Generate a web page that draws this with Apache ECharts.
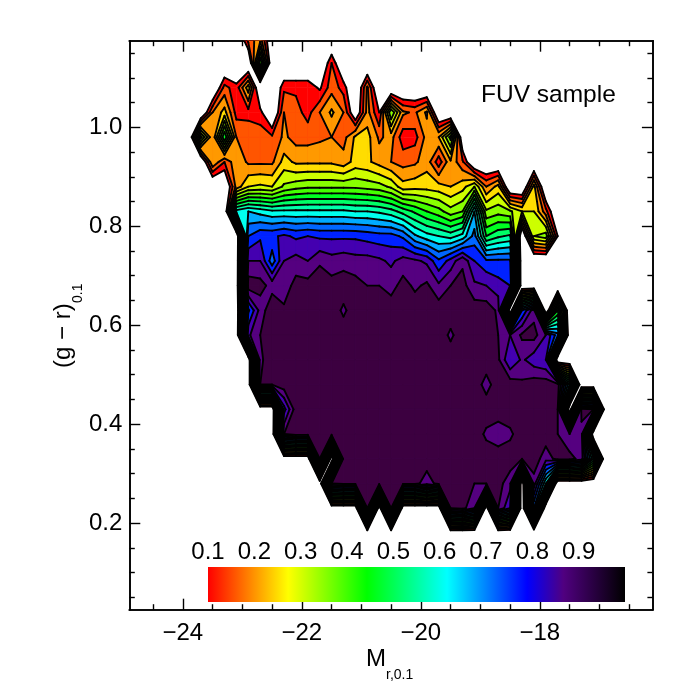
<!DOCTYPE html>
<html>
<head>
<meta charset="utf-8">
<style>html,body{margin:0;padding:0;background:#fff}#chart{width:692px;height:692px}</style>
<script src="https://cdn.jsdelivr.net/npm/echarts@6/dist/echarts.min.js"></script>
</head>
<body>
<div id="chart"></div>
<script>
// grid nodes of the contour plot
var magBins = [-23.9,-23.7,-23.5,-23.3,-23.1,-22.9,-22.7,-22.5,-22.3,-22.1,-21.9,-21.7,-21.5,-21.3,-21.1,-20.9,-20.7,-20.5,-20.3,-20.1,-19.9,-19.7,-19.5,-19.3,-19.1,-18.9,-18.7,-18.5,-18.3,-18.1,-17.9,-17.7,-17.5,-17.3,-17.1,-16.9];
var colorBins = [1.18,1.13,1.08,1.03,0.98,0.93,0.88,0.83,0.78,0.73,0.68,0.63,0.58,0.53,0.48,0.43,0.38,0.33,0.28,0.23,0.18];
// fraction in percent, one row per colorBins entry
var fraction = [
[0,0,0,0,0,18, 22,0,0,0,0,0, 0,0,0,0,0,0, 0,0,0,0,0,0, 0,0,0,0,0,0, 0,0,0,0,0,0],
[0,0,0,0,0,0, 45,0,0,0,0,0, 15,0,0,0,0,0, 0,0,0,0,0,0, 0,0,0,0,0,0, 0,0,0,0,0,0],
[0,0,0,17,12,28, 0,0,14,14,14,9, 18,13,0,21,0,0, 0,0,0,0,0,0, 0,0,0,0,0,0, 0,0,0,0,0,0],
[0,0,20,27,13,13, 12,0,20,17,13,20, 26,20,3,22,10,40, 21,19,26,0,0,0, 0,0,0,0,0,0, 0,0,0,0,0,0],
[0,42,20,50,20,19, 18,16,21,18,18,19, 20,18,26,27,19,22, 12,13,22,25,42,3, 0,0,0,0,0,0, 0,0,0,0,0,0],
[0,0,25,15,24,19, 19,19,27,24,24,24, 24,22,27,26,23,20, 18,19,23,12,24,16, 0,0,0,0,0,0, 0,0,0,0,0,0],
[0,0,0,0,22,30, 31,30,36,38,39,39, 39,39,39,38,37,34, 27,28,28,27,25,28, 35,20,27,0,0,27, 0,0,0,0,0,0],
[0,0,0,0,62,65, 63,61,61,61,61,61, 61,61,60,60,59,57, 53,49,45,42,37,40, 65,36,38,36,30,30, 17,0,0,0,0,0],
[0,0,0,0,0,75, 79,79,81,79,80,79, 79,79,79,78,77,77, 74,66,62,60,58,62, 72,50,54,56,0,35, 38,10,0,0,0,0],
[0,0,0,0,0,85, 85,72,85,87,85,89, 87,88,87,87,86,84, 87,86,84,76,82,89, 80,76,76,76,0,0, 0,0,0,0,0,0],
[0,0,0,0,0,93, 92,88,87,92,92,94, 92,93,92,90,90,88, 92,89,91,86,90,92, 86,85,82,80,0,0, 0,0,0,0,0,0],
[0,0,0,0,0,74, 87,94,91,93,93,93, 93,89,93,93,93,93, 93,93,93,93,93,93, 93,93,89,0,75,88, 0,45,0,0,0,0],
[0,0,0,0,0,84, 90,93,93,93,93,93, 93,93,93,93,93,93, 93,93,93,93,89,93, 93,93,90,85,91,92, 85,72,0,0,0,0],
[0,0,0,0,0,0, 89,93,93,93,93,93, 93,93,93,93,93,93, 93,93,93,93,93,93, 93,93,91,80,86,82, 80,0,0,0,0,0],
[0,0,0,0,0,0, 90,90,93,93,93,93, 93,93,93,93,93,93, 93,93,93,93,93,93, 93,88,93,93,91,93, 93,93,60,0,0,0],
[0,0,0,0,0,0, 0,0,78,93,93,93, 93,93,93,93,93,93, 93,93,93,93,93,93, 93,93,93,93,93,93, 93,90,0,92,90,0],
[0,0,0,0,0,0, 0,0,90,93,93,93, 93,93,93,93,93,93, 93,93,93,93,93,93, 93,89,87,89,93,93, 93,90,85,88,0,0],
[0,0,0,0,0,0, 0,0,0,0,0,90, 0,93,93,93,93,93, 93,93,93,93,93,93, 93,93,93,93,90,93, 87,92,92,88,55,0],
[0,0,0,0,0,0, 0,0,0,0,0,0, 90,92,92,92,92,92, 92,92,87,92,92,92, 90,90,92,87,0,88, 60,0,0,0,0,0],
[0,0,0,0,0,0, 0,0,0,0,0,0, 0,0,0,90,0,90, 0,0,0,0,90,92, 85,0,90,80,0,70, 0,0,0,0,0,0],
[0,0,0,0,0,0, 0,0,0,0,0,0, 0,0,0,0,0,0, 0,0,0,0,0,0, 0,0,0,0,0,0, 0,0,0,0,0,0]
];
var levels = [10,15,20,25,30,35,40,45,50,55,60,65,70,75,80,85,90,95];
var levelColors = ['#ff0000','#ff5500','#ff9900','#ffdd00','#ccff00','#88ff00','#44ff00','#00ff22','#00ff66','#00ffaa','#00ffee','#00aaff','#0066ff','#0022ff','#4400b0','#550080','#3c0040','#100010'];

var xMajor = [-24,-22,-20,-18];
var xMinor = [-24.5,-23.5,-23,-22.5,-21.5,-21,-20.5,-19.5,-19,-18.5,-17.5,-17,-16.5];
var yMajor = [0.2,0.4,0.6,0.8,1.0];
var yMinor = [0.05,0.1,0.15,0.25,0.3,0.35,0.45,0.5,0.55,0.65,0.7,0.75,0.85,0.9,0.95,1.05,1.1,1.15];
var barTicks = [0.1,0.2,0.3,0.4,0.5,0.6,0.7,0.8,0.9];
var barStops = [0.1,0.273,0.443,0.616,0.789,0.867,1.0];
var barColors = ['#ff0000','#ffff00','#00ff00','#00ffff','#0000ff','#500080','#000000'];

var FONT = 'Liberation Sans';

// pieces of one grid cell above a level; highs of a saddle stay apart like in the original
function cellPieces(c, r, level) {
	var cx = [c, c+1, c+1, c];
	var cy = [r, r, r+1, r+1];
	var v = [], above = [], pts = [], i, count = 0;
	for (i = 0; i < 4; i++) {
		v[i] = fraction[cy[i]][cx[i]];
		above[i] = v[i] >= level;
		pts[i] = [magBins[cx[i]], colorBins[cy[i]]];
		if (above[i]) count++;
	}
	if (count == 0) return [];
	if (count == 4) return [{poly: pts, seg: null}];
	function cross(a, b) {
		var t = (level - v[a]) / (v[b] - v[a]);
		return [pts[a][0] + t*(pts[b][0]-pts[a][0]), pts[a][1] + t*(pts[b][1]-pts[a][1])];
	}
	var out = [];
	for (i = 0; i < 4; i++) {
		var prev = (i+3) % 4;
		if (above[i] && !above[prev]) {
			var start = cross(prev, i), poly = [start], m = i;
			while (above[m]) {
				poly.push(pts[m]);
				m = (m+1) % 4;
			}
			var end = cross((m+3) % 4, m);
			poly.push(end);
			out.push({poly: poly, seg: [end, start]});
		}
	}
	return out;
}

function renderLevel(params, api) {
	var level = api.value(2), color = levelColors[params.dataIndex], children = [];
	for (var r = 0; r < colorBins.length-1; r++) {
		for (var c = 0; c < magBins.length-1; c++) {
			var pieces = cellPieces(c, r, level);
			for (var i = 0; i < pieces.length; i++) {
				children.push({
					type: 'polygon',
					shape: {points: pieces[i].poly.map(function(p){ return api.coord(p); })},
					style: {fill: color, stroke: color, lineWidth: 0.6}
				});
			}
		}
	}
	return {type: 'group', children: children};
}

function renderLines(params, api) {
	var level = api.value(2), children = [];
	for (var r = 0; r < colorBins.length-1; r++) {
		for (var c = 0; c < magBins.length-1; c++) {
			var pieces = cellPieces(c, r, level);
			for (var i = 0; i < pieces.length; i++) {
				if (!pieces[i].seg) continue;
				children.push({
					type: 'polyline',
					shape: {points: pieces[i].seg.map(function(p){ return api.coord(p); })},
					style: {fill: null, stroke: '#000', lineWidth: 1.9, lineCap: 'round'}
				});
			}
		}
	}
	return {type: 'group', children: children};
}

function renderBar(params, api) {
	var a = api.coord([barStops[0], 0]);
	var b = api.coord([barStops[barStops.length-1], 1]);
	var stops = barStops.map(function(v, i){
		return {offset: (v-barStops[0])/(barStops[barStops.length-1]-barStops[0]), color: barColors[i]};
	});
	return {
		type: 'rect',
		shape: {x: a[0], y: b[1], width: b[0]-a[0], height: a[1]-b[1]},
		style: {fill: new echarts.graphic.LinearGradient(0, 0, 1, 0, stops)}
	};
}

function frameAxis(position, range, ticks, len, showLabel, fmt, margin) {
	return {
		type: 'value', gridIndex: 0, position: position, min: range[0], max: range[1],
		splitLine: {show: false},
		axisLine: {show: true, onZero: false, lineStyle: {color: '#000', width: 1.6}},
		axisTick: {show: true, inside: true, length: len, customValues: ticks, lineStyle: {color: '#000', width: 1.4}},
		axisLabel: {show: showLabel, customValues: ticks, margin: margin, color: '#000', fontFamily: FONT, fontSize: 24, formatter: fmt}
	};
}

function magLabel(v) { return String(v).replace('-', '\u2212'); }
function colorLabel(v) { return v.toFixed(1); }

var xRange = [-24.9, -16.1], yRange = [0.025, 1.175];
var levelData = levels.map(function(l){ return [magBins[0], colorBins[0], l]; });

var option = {
	animation: false,
	grid: [
		{left: 129.3, top: 40.7, width: 523.6, height: 569, containLabel: false},
		{left: 208, top: 567, width: 417, height: 35}
	],
	xAxis: [
		frameAxis('bottom', xRange, xMajor, 11, true, magLabel, 12),
		frameAxis('bottom', xRange, xMinor, 5.5, false),
		frameAxis('top', xRange, xMajor, 11, false),
		frameAxis('top', xRange, xMinor, 5.5, false),
		{
			type: 'value', gridIndex: 1, position: 'top', min: 0.1, max: 1,
			splitLine: {show: false}, axisLine: {show: false}, axisTick: {show: false},
			axisLabel: {customValues: barTicks, margin: 3, color: '#000', fontFamily: FONT, fontSize: 24, formatter: colorLabel}
		}
	],
	yAxis: [
		frameAxis('left', yRange, yMajor, 11, true, colorLabel, 7),
		frameAxis('left', yRange, yMinor, 5.5, false),
		frameAxis('right', yRange, yMajor, 11, false),
		frameAxis('right', yRange, yMinor, 5.5, false),
		{type: 'value', gridIndex: 1, min: 0, max: 1, show: false}
	],
	series: [
		{type: 'custom', coordinateSystem: 'cartesian2d', xAxisIndex: 0, yAxisIndex: 0, clip: true, z: 2, data: levelData, renderItem: renderLevel, silent: true},
		{type: 'custom', coordinateSystem: 'cartesian2d', xAxisIndex: 0, yAxisIndex: 0, clip: true, z: 3, data: levelData, renderItem: renderLines, silent: true},
		{type: 'custom', coordinateSystem: 'cartesian2d', xAxisIndex: 4, yAxisIndex: 4, z: 4, data: [[0.1, 0]], renderItem: renderBar, silent: true}
	],
	graphic: [
		{type: 'text', left: 481, top: 83, style: {text: 'FUV sample', fill: '#000', font: '24.5px "' + FONT + '"'}},
		{type: 'text', left: 366, top: 647, style: {text: 'M', fill: '#000', font: '24px "' + FONT + '"'}},
		{type: 'text', left: 386, top: 668, style: {text: 'r,0.1', fill: '#000', font: '14px "' + FONT + '"'}},
		{type: 'text', x: 51, y: 368, rotation: Math.PI/2, style: {text: '(g \u2212 r)', fill: '#000', font: '24px "' + FONT + '"'}},
		{type: 'text', x: 71, y: 303, rotation: Math.PI/2, style: {text: '0.1', fill: '#000', font: '14px "' + FONT + '"'}}
	]
};

var chart = echarts.init(document.getElementById('chart'), null, {renderer: 'canvas'});
chart.setOption(option);
</script>
</body>
</html>
